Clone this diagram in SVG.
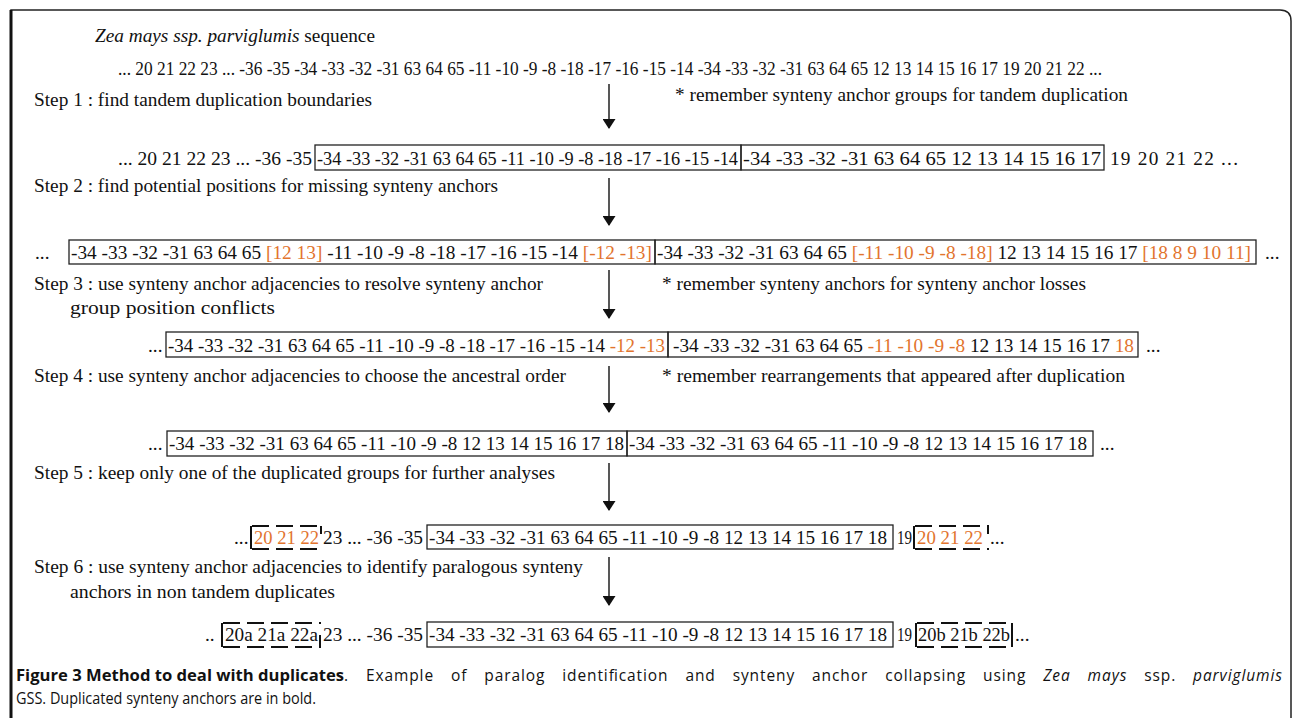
<svg xmlns="http://www.w3.org/2000/svg" width="1293" height="718" viewBox="0 0 1293 718">
<defs>
<style>
.s{font-family:"Liberation Serif","Times New Roman",serif;font-size:19.3px;fill:#111}
.l{font-family:"Liberation Serif","Times New Roman",serif;font-size:19.5px;fill:#111}
.o{fill:#E2742E}
.b{fill:none;stroke:#222;stroke-width:1.3}
.d{fill:none;stroke:#111;stroke-width:2;stroke-dasharray:17 7}
.v{stroke:#111;stroke-width:2}
.a{stroke:#111;stroke-width:1.4}
.c{font-family:"Open Sans","Liberation Sans",sans-serif;font-size:15.5px;fill:#111}
</style>
<marker id="ah" markerWidth="10" markerHeight="13" refX="9" refY="6.5" orient="auto" markerUnits="userSpaceOnUse">
<path d="M0,0 L10,6.5 L0,13 z" fill="#111"/>
</marker>
</defs>
<rect x="0" y="0" width="1293" height="718" fill="#fff"/>
<path d="M11,718 L11,10 L1280,10 Q1291,10 1291,21 L1291,718" fill="none" stroke="#222" stroke-width="1.5"/>
<line x1="11" y1="10" x2="11" y2="718" stroke="#111" stroke-width="3"/>

<g id="title">
<text class="l" x="95" y="42" textLength="280" lengthAdjust="spacingAndGlyphs"><tspan font-style="italic">Zea mays ssp. parviglumis</tspan> sequence</text>
</g>

<g id="row0">
<text class="s" x="118" y="75" textLength="984" lengthAdjust="spacingAndGlyphs">... 20 21 22 23 ... -36 -35 -34 -33 -32 -31 63 64 65 -11 -10 -9 -8 -18 -17 -16 -15 -14 -34 -33 -32 -31 63 64 65 12 13 14 15 16 17 19 20 21 22 ...</text>
</g>

<g id="step1">
<text class="l" x="34" y="106" textLength="338" lengthAdjust="spacingAndGlyphs">Step 1 : find tandem duplication boundaries</text>
<text class="l" x="675" y="101" textLength="453" lengthAdjust="spacingAndGlyphs">* remember synteny anchor groups for tandem duplication</text>
</g>

<g id="row1">
<text class="s" x="118" y="165" textLength="194" lengthAdjust="spacingAndGlyphs">... 20 21 22 23 ... -36 -35</text>
<rect class="b" x="315" y="145" width="426" height="25"/>
<rect class="b" x="741" y="145" width="363" height="25"/>
<text class="s" x="317" y="165" textLength="421" lengthAdjust="spacingAndGlyphs">-34 -33 -32 -31 63 64 65 -11 -10 -9 -8 -18 -17 -16 -15 -14</text>
<text class="s" x="743" y="165" textLength="358" lengthAdjust="spacingAndGlyphs">-34 -33 -32 -31 63 64 65 12 13 14 15 16 17</text>
<text class="s" x="1110" y="165" textLength="128" lengthAdjust="spacing">19 20 21 22 ...</text>
</g>

<g id="step2">
<text class="l" x="34" y="192" textLength="464" lengthAdjust="spacingAndGlyphs">Step 2 : find potential positions for missing synteny anchors</text>
</g>

<g id="row2">
<text class="s" x="35" y="259">...</text>
<rect class="b" x="69" y="240" width="586" height="24"/>
<rect class="b" x="655" y="240" width="601" height="24"/>
<text class="s" x="71" y="259" textLength="581" lengthAdjust="spacingAndGlyphs">-34 -33 -32 -31 63 64 65 <tspan class="o">[12 13]</tspan> -11 -10 -9 -8 -18 -17 -16 -15 -14 <tspan class="o">[-12 -13]</tspan></text>
<text class="s" x="657" y="259" textLength="594" lengthAdjust="spacingAndGlyphs">-34 -33 -32 -31 63 64 65 <tspan class="o">[-11 -10 -9 -8 -18]</tspan> 12 13 14 15 16 17 <tspan class="o">[18 8 9 10 11]</tspan></text>
<text class="s" x="1265" y="259">...</text>
</g>

<g id="step3">
<text class="l" x="34" y="290" textLength="509" lengthAdjust="spacingAndGlyphs">Step 3 : use synteny anchor adjacencies to resolve synteny anchor</text>
<text class="l" x="70" y="314" textLength="205" lengthAdjust="spacingAndGlyphs">group position conflicts</text>
<text class="l" x="662" y="290" textLength="424" lengthAdjust="spacingAndGlyphs">* remember synteny anchors for synteny anchor losses</text>
</g>

<g id="row3">
<text class="s" x="148" y="352">...</text>
<rect class="b" x="166" y="332" width="502" height="25"/>
<rect class="b" x="668" y="332" width="470" height="25"/>
<text class="s" x="168" y="352" textLength="497" lengthAdjust="spacingAndGlyphs">-34 -33 -32 -31 63 64 65 -11 -10 -9 -8 -18 -17 -16 -15 -14 <tspan class="o">-12 -13</tspan></text>
<text class="s" x="673" y="352" textLength="461" lengthAdjust="spacingAndGlyphs">-34 -33 -32 -31 63 64 65 <tspan class="o">-11 -10 -9 -8</tspan> 12 13 14 15 16 17 <tspan class="o">18</tspan></text>
<text class="s" x="1146" y="352">...</text>
</g>

<g id="step4">
<text class="l" x="34" y="382" textLength="532" lengthAdjust="spacingAndGlyphs">Step 4 : use synteny anchor adjacencies to choose the ancestral order</text>
<text class="l" x="662" y="382" textLength="463" lengthAdjust="spacingAndGlyphs">*  remember rearrangements that appeared after duplication</text>
</g>

<g id="row4">
<text class="s" x="148" y="450">...</text>
<rect class="b" x="167" y="431" width="460" height="25"/>
<rect class="b" x="627" y="431" width="466" height="25"/>
<text class="s" x="169" y="450" textLength="455" lengthAdjust="spacingAndGlyphs">-34 -33 -32 -31 63 64 65 -11 -10 -9 -8 12 13 14 15 16 17 18</text>
<text class="s" x="629" y="450" textLength="458" lengthAdjust="spacingAndGlyphs">-34 -33 -32 -31 63 64 65 -11 -10 -9 -8 12 13 14 15 16 17 18</text>
<text class="s" x="1100" y="450">...</text>
</g>

<g id="step5">
<text class="l" x="34" y="479" textLength="521" lengthAdjust="spacingAndGlyphs">Step 5 : keep only one of the duplicated groups for further analyses</text>
</g>

<g id="row5">
<text class="s" x="234" y="544">...</text>
<line class="d" x1="252" y1="526" x2="322" y2="526"/>
<line class="d" x1="252" y1="549" x2="322" y2="549"/>
<line class="v" x1="251" y1="526" x2="251" y2="549"/>
<line class="v" x1="321" y1="526" x2="321" y2="534"/>
<text class="s o" x="254" y="544" textLength="65" lengthAdjust="spacingAndGlyphs">20 21 22</text>
<text class="s" x="323" y="544" textLength="100" lengthAdjust="spacingAndGlyphs">23 ... -36 -35</text>
<rect class="b" x="427" y="525" width="466" height="24"/>
<text class="s" x="429" y="544" textLength="458" lengthAdjust="spacingAndGlyphs">-34 -33 -32 -31 63 64 65 -11 -10 -9 -8 12 13 14 15 16 17 18</text>
<text class="s" x="897" y="544" textLength="15" lengthAdjust="spacingAndGlyphs">19</text>
<line class="d" x1="915" y1="526" x2="989" y2="526"/>
<line class="d" x1="915" y1="549" x2="989" y2="549"/>
<line class="v" x1="914" y1="526" x2="914" y2="549"/>
<line class="v" x1="988" y1="526" x2="988" y2="534"/>
<text class="s o" x="917" y="544" textLength="66" lengthAdjust="spacingAndGlyphs">20 21 22</text>
<text class="s" x="990" y="544">...</text>
</g>

<g id="step6">
<text class="l" x="34" y="573" textLength="549" lengthAdjust="spacingAndGlyphs">Step 6 : use synteny anchor adjacencies to identify  paralogous synteny</text>
<text class="l" x="70" y="598" textLength="265" lengthAdjust="spacingAndGlyphs">anchors in non tandem duplicates</text>
</g>

<g id="row6">
<text class="s" x="205" y="641">..</text>
<line class="d" x1="223" y1="623" x2="321" y2="623"/>
<line class="d" x1="223" y1="647" x2="321" y2="647"/>
<line class="v" x1="222" y1="623" x2="222" y2="647"/>
<line class="v" x1="320" y1="635" x2="320" y2="647"/>
<text class="s" x="225" y="641" textLength="93" lengthAdjust="spacingAndGlyphs">20a 21a 22a</text>
<text class="s" x="323" y="641" textLength="100" lengthAdjust="spacingAndGlyphs">23 ... -36 -35</text>
<rect class="b" x="427" y="622" width="466" height="25"/>
<text class="s" x="429" y="641" textLength="458" lengthAdjust="spacingAndGlyphs">-34 -33 -32 -31 63 64 65 -11 -10 -9 -8 12 13 14 15 16 17 18</text>
<text class="s" x="897" y="641" textLength="15" lengthAdjust="spacingAndGlyphs">19</text>
<line class="d" x1="917" y1="623" x2="1012" y2="623"/>
<line class="d" x1="917" y1="647" x2="1012" y2="647"/>
<line class="v" x1="916" y1="623" x2="916" y2="647"/>
<line class="v" x1="1012" y1="623" x2="1012" y2="647"/>
<text class="s" x="918" y="641" textLength="92" lengthAdjust="spacingAndGlyphs">20b 21b 22b</text>
<text class="s" x="1015" y="641">...</text>
</g>

<g id="connectors">
<line class="a" x1="609" y1="84" x2="609" y2="128" marker-end="url(#ah)"/>
<line class="a" x1="609" y1="178" x2="609" y2="225" marker-end="url(#ah)"/>
<line class="a" x1="609" y1="270" x2="609" y2="318" marker-end="url(#ah)"/>
<line class="a" x1="609" y1="366" x2="609" y2="412" marker-end="url(#ah)"/>
<line class="a" x1="609" y1="463" x2="609" y2="510" marker-end="url(#ah)"/>
<line class="a" x1="609" y1="557" x2="609" y2="605" marker-end="url(#ah)"/>
</g>

<g id="caption">
<text class="c" x="16" y="681" font-weight="bold" textLength="328" lengthAdjust="spacingAndGlyphs">Figure 3 Method to deal with duplicates</text>
<text class="c" x="344" y="681" word-spacing="12" textLength="938" lengthAdjust="spacing">. Example of paralog identification and synteny anchor collapsing using <tspan font-style="italic">Zea mays</tspan> ssp. <tspan font-style="italic">parviglumis</tspan></text>
<text class="c" x="16" y="704" textLength="300" lengthAdjust="spacingAndGlyphs">GSS. Duplicated synteny anchors are in bold.</text>
</g>
</svg>
